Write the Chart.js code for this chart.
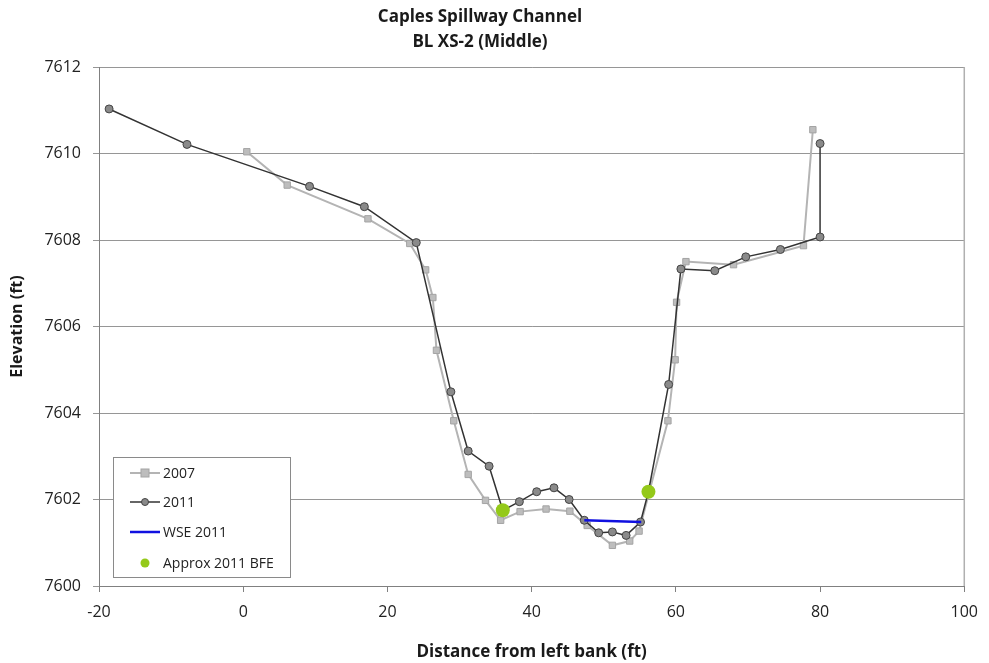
<!DOCTYPE html>
<html>
<head>
<meta charset="utf-8">
<title>Caples Spillway Channel - BL XS-2 (Middle)</title>
<script src="https://cdn.jsdelivr.net/npm/chart.js@4/dist/chart.umd.min.js"></script>
<style>
  html, body { margin: 0; padding: 0; background: #fff; }
  #wrap { width: 989px; height: 663px; }
</style>
</head>
<body>
<div id="wrap"><canvas id="xsChart" width="989" height="663"></canvas></div>
<script>
// survey points, distance from left bank (ft) and elevation (ft)
var x2007 = [0.5, 6.1, 17.3, 23.1, 25.3, 26.3, 26.8, 29.2, 31.2, 33.6, 35.7, 38.4, 42.0, 45.3, 47.7, 51.2, 53.6, 54.9, 58.9, 59.9, 60.1, 61.4, 68.0, 77.7, 79.0];
var y2007 = [7610.04, 7609.27, 7608.49, 7607.92, 7607.31, 7606.67, 7605.45, 7603.82, 7602.58, 7601.98, 7601.52, 7601.72, 7601.78, 7601.73, 7601.40, 7600.94, 7601.04, 7601.27, 7603.82, 7605.23, 7606.56, 7607.50, 7607.43, 7607.87, 7610.55];

var x2011 = [-18.6, -7.8, 9.2, 16.8, 24.0, 28.8, 31.2, 34.1, 36.0, 38.3, 40.7, 43.1, 45.2, 47.3, 49.3, 51.2, 53.1, 55.1, 56.2, 59.0, 60.7, 65.4, 69.7, 74.5, 80.0, 80.0];
var y2011 = [7611.03, 7610.21, 7609.24, 7608.77, 7607.94, 7604.49, 7603.12, 7602.77, 7601.75, 7601.95, 7602.18, 7602.27, 7602.00, 7601.52, 7601.23, 7601.25, 7601.17, 7601.48, 7602.18, 7604.66, 7607.33, 7607.29, 7607.61, 7607.78, 7608.07, 7610.23];

var xWse = [47.3, 55.2];
var yWse = [7601.52, 7601.48];

var xBfe = [36.0, 56.2];
var yBfe = [7601.75, 7602.18];

var xTicks = [-20, 0, 20, 40, 60, 80, 100];
var yTicks = [7600, 7602, 7604, 7606, 7608, 7610, 7612];

var titleLines = ['Caples Spillway Channel', 'BL XS-2 (Middle)'];
var FONT = "'Open Sans', 'Liberation Sans', sans-serif";

function pts(xs, ys) {
    return xs.map(function (x, i) { return { x: x, y: ys[i] }; });
}

// two-line title, plot frame on the right and the boxed legend
var decorations = {
    id: 'decorations',
    beforeDatasetsDraw: function (chart) {
        var ctx = chart.ctx, a = chart.chartArea;
        ctx.save();
        ctx.strokeStyle = '#b0b0b0';
        ctx.lineWidth = 1.5;
        ctx.beginPath();
        ctx.moveTo(a.right, a.top);
        ctx.lineTo(a.right, a.bottom);
        ctx.stroke();
        ctx.restore();
    },
    afterDraw: function (chart) {
        var ctx = chart.ctx;
        ctx.save();
        ctx.fillStyle = '#1a1a1a';
        ctx.font = 'bold 17px ' + FONT;
        ctx.textAlign = 'center';
        ctx.textBaseline = 'middle';
        ctx.fillText(titleLines[0], 480, 17);
        ctx.fillText(titleLines[1], 480, 42);

        // legend
        ctx.fillStyle = '#fff';
        ctx.fillRect(113.5, 457.5, 177, 120);
        ctx.strokeStyle = '#8a8a8a';
        ctx.lineWidth = 1;
        ctx.strokeRect(113.5, 457.5, 177, 120);

        var rows = [473, 502, 532, 563];
        ctx.font = '14px ' + FONT;
        ctx.textAlign = 'left';
        chart.data.datasets.forEach(function (ds, i) {
            var y = rows[i];
            if (ds.showLine !== false) {
                ctx.strokeStyle = ds.borderColor;
                ctx.lineWidth = ds.borderWidth;
                ctx.beginPath();
                ctx.moveTo(130, y);
                ctx.lineTo(160, y);
                ctx.stroke();
            }
            if (ds.pointRadius > 0) {
                ctx.fillStyle = ds.pointBackgroundColor;
                ctx.strokeStyle = ds.pointBorderColor;
                ctx.lineWidth = 1;
                var r = ds.legendRadius;
                if (ds.pointStyle === 'rect') {
                    ctx.fillRect(145 - r, y - r, 2 * r, 2 * r);
                    ctx.strokeRect(145 - r, y - r, 2 * r, 2 * r);
                } else {
                    ctx.beginPath();
                    ctx.arc(145, y, r, 0, Math.PI * 2);
                    ctx.fill();
                    if (ds.pointBorderWidth > 0) ctx.stroke();
                }
            }
            ctx.fillStyle = '#222';
            ctx.fillText(ds.label, 163, y + 1);
        });
        ctx.restore();
    }
};

var xsChart = new Chart(
    document.getElementById('xsChart'),
    {
        type: 'scatter',
        data: {
            datasets: [
                {
                    label: '2007',
                    data: pts(x2007, y2007),
                    showLine: true,
                    borderColor: '#b4b4b4',
                    borderWidth: 2,
                    pointStyle: 'rect',
                    pointRadius: 4.5,
                    legendRadius: 4,
                    pointBackgroundColor: '#bdbdbd',
                    pointBorderColor: '#a4a4a4',
                    pointBorderWidth: 1,
                    order: 4
                },
                {
                    label: '2011',
                    data: pts(x2011, y2011),
                    showLine: true,
                    borderColor: '#333333',
                    borderWidth: 1.5,
                    pointStyle: 'circle',
                    pointRadius: 4,
                    legendRadius: 3.5,
                    pointBackgroundColor: '#8a8a8a',
                    pointBorderColor: '#444444',
                    pointBorderWidth: 1,
                    order: 3
                },
                {
                    label: 'WSE 2011',
                    data: pts(xWse, yWse),
                    showLine: true,
                    borderColor: '#1010e0',
                    borderWidth: 2.5,
                    pointRadius: 0,
                    order: 2
                },
                {
                    label: 'Approx 2011 BFE',
                    data: pts(xBfe, yBfe),
                    showLine: false,
                    pointStyle: 'circle',
                    pointRadius: 7,
                    legendRadius: 4.5,
                    pointBackgroundColor: '#94c91a',
                    pointBorderColor: '#94c91a',
                    pointBorderWidth: 0,
                    order: 1
                }
            ]
        },
        options: {
            responsive: false,
            animation: false,
            layout: { padding: { top: 67, right: 21, left: 0, bottom: 0 } },
            plugins: {
                legend: { display: false },
                title: { display: false },
                tooltip: { enabled: false }
            },
            scales: {
                x: {
                    type: 'linear',
                    min: -20,
                    max: 100,
                    afterFit: function (s) { s.height = 77; },
                    afterBuildTicks: function (s) { s.ticks = xTicks.map(function (v) { return { value: v }; }); },
                    grid: { drawOnChartArea: false, drawTicks: true, tickLength: 6, color: '#808080' },
                    border: { color: '#808080', width: 1 },
                    ticks: {
                        padding: 11,
                        color: '#222',
                        font: { family: FONT, size: 16 },
                        callback: function (v) { return String(v); }
                    },
                    title: {
                        display: true,
                        text: 'Distance from left bank (ft)',
                        color: '#1a1a1a',
                        padding: { top: 0, bottom: 1 },
                        font: { family: FONT, size: 17, weight: 'bold' }
                    }
                },
                y: {
                    type: 'linear',
                    min: 7600,
                    max: 7612,
                    afterFit: function (s) { s.width = 99; },
                    afterBuildTicks: function (s) { s.ticks = yTicks.map(function (v) { return { value: v }; }); },
                    grid: { color: '#969696', lineWidth: 1, drawTicks: true, tickLength: 6 },
                    border: { color: '#808080', width: 1 },
                    ticks: {
                        padding: 12,
                        color: '#222',
                        font: { family: FONT, size: 16 },
                        callback: function (v) { return String(v); }
                    },
                    title: {
                        display: true,
                        text: 'Elevation (ft)',
                        color: '#1a1a1a',
                        padding: { top: 8, bottom: 0 },
                        font: { family: FONT, size: 16, weight: 'bold' }
                    }
                }
            }
        },
        plugins: [decorations]
    }
);
</script>
</body>
</html>
